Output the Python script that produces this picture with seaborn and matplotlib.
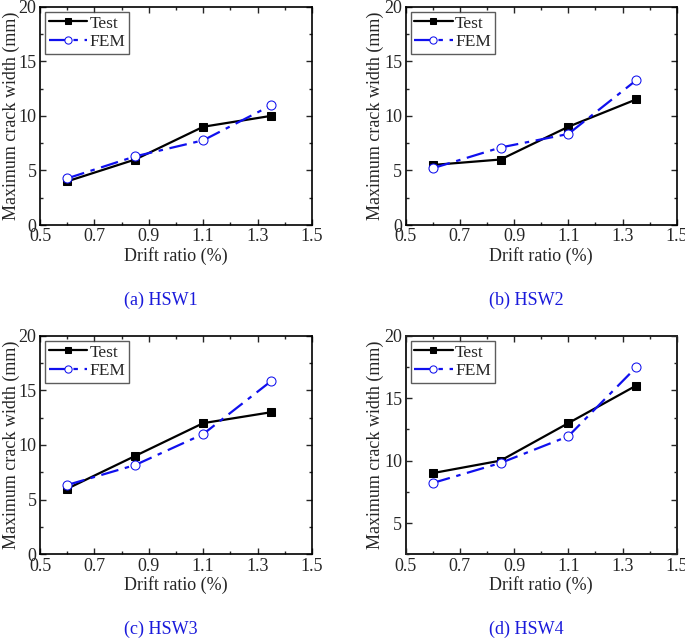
import numpy as np
import pandas as pd
import matplotlib
matplotlib.use("Agg")
import matplotlib.pyplot as plt
from matplotlib.ticker import MultipleLocator
import seaborn as sns

drift = [0.6, 0.85, 1.1, 1.35]
test_hsw1 = [4.0, 6.0, 9.0, 10.0]
fem_hsw1 = [4.27, 6.29, 7.76, 10.96]
test_hsw2 = [5.5, 6.0, 9.0, 11.5]
fem_hsw2 = [5.2, 7.1, 8.34, 13.25]
test_hsw3 = [6.0, 9.0, 12.0, 13.0]
fem_hsw3 = [6.34, 8.17, 11.0, 15.85]
test_hsw4 = [9.0, 10.0, 13.0, 16.0]
fem_hsw4 = [8.21, 9.81, 11.95, 17.46]
captions = ["(a) HSW1", "(b) HSW2", "(c) HSW3", "(d) HSW4"]
series_names = ["Test", "FEM"]
xticks = [0.5, 0.7, 0.9, 1.1, 1.3, 1.5]
xticklabels = ["0.5", "0.7", "0.9", "1.1", "1.3", "1.5"]
xlabel = "Drift ratio (%)"
ylabel = "Maximum crack width (mm)"

sns.set_style("ticks")
plt.rcParams['font.family'] = ['Liberation Serif', 'DejaVu Serif']
plt.rcParams['xtick.direction'] = 'in'
plt.rcParams['ytick.direction'] = 'in'
plt.rcParams['xtick.top'] = True
plt.rcParams['ytick.right'] = True

W, H = 685, 639
fig = plt.figure(figsize=(W / 100, H / 100), dpi=100)

boxes = [
    (40, 6.7, 312, 225),
    (405.7, 6.7, 676.7, 225),
    (40, 335.7, 312, 554.3),
    (405.7, 335.7, 676.7, 554.3),
]
data = [(test_hsw1, fem_hsw1), (test_hsw2, fem_hsw2),
        (test_hsw3, fem_hsw3), (test_hsw4, fem_hsw4)]
cap_pos = [(160.5, 300), (526, 300), (160.5, 629), (526, 629)]
ylab_x = [11, 375, 11, 375]
ylims = [(0, 20), (0, 20), (0, 20), (2.5, 20)]

for i, ((l, t, r, b), (tv, fv)) in enumerate(zip(boxes, data)):
    ax = fig.add_axes([l / W, 1 - b / H, (r - l) / W, (b - t) / H])
    df = pd.DataFrame({"x": drift * 2, "y": list(tv) + list(fv),
                       "series": [series_names[0]] * 4 + [series_names[1]] * 4})
    sns.lineplot(data=df[df.series == "Test"], x="x", y="y", ax=ax,
                 color="black", marker="s", markersize=6, linewidth=1.6,
                 markeredgecolor="black", label="Test")
    sns.lineplot(data=df[df.series == "FEM"], x="x", y="y", ax=ax,
                 color="#1010ee", marker="o", markersize=6.5, linewidth=1.6,
                 markerfacecolor="white", markeredgecolor="#1010ee",
                 linestyle=(0, (8, 3, 2, 3)), label="FEM")
    ax.set_xlim(0.5, 1.5)
    ax.set_ylim(*ylims[i])
    ax.xaxis.set_minor_locator(MultipleLocator(0.1))
    ax.yaxis.set_major_locator(MultipleLocator(5))
    ax.yaxis.set_minor_locator(MultipleLocator(2.5))
    ax.set_xticks(xticks)
    ax.set_xticklabels(xticklabels)
    ax.tick_params(which="major", length=4, width=1, labelsize=13, pad=2.5)
    ax.tick_params(which="minor", length=2.5, width=1)
    for s in ax.spines.values():
        s.set_linewidth(1.2)
        s.set_color("black")
    ax.set_xlabel(xlabel, fontsize=13, labelpad=1)
    ax.set_ylabel(ylabel, fontsize=13, va="center")
    ax.yaxis.set_label_coords((ylab_x[i] - l) / (r - l), 0.5)
    leg = ax.legend(loc="upper left", fontsize=12.5, frameon=True, fancybox=False,
                    handlelength=2.2, handletextpad=0.15, borderpad=0.2,
                    labelspacing=0.15, borderaxespad=0.3, markerscale=0.8)
    leg.get_frame().set_edgecolor("#333333")
    leg.get_frame().set_linewidth(1.0)
    if i == 3:
        ax.tick_params(axis="y", which="both", right=False)
        ax2 = ax.twinx()
        ax2.set_ylim(0, 20)
        ax2.yaxis.set_major_locator(MultipleLocator(5))
        ax2.yaxis.set_minor_locator(MultipleLocator(2.5))
        ax2.tick_params(axis="y", which="both", direction="in", labelright=False)
        ax2.tick_params(which="major", length=4, width=1)
        ax2.tick_params(which="minor", length=2.5, width=1)
        for s in ax2.spines.values():
            s.set_linewidth(1.2)
    cx, cy = cap_pos[i]
    fig.text(cx / W, 1 - cy / H, captions[i], color="#1a1adb", fontsize=13,
             ha="center", va="center")

fig.savefig("out.png", dpi=100)
